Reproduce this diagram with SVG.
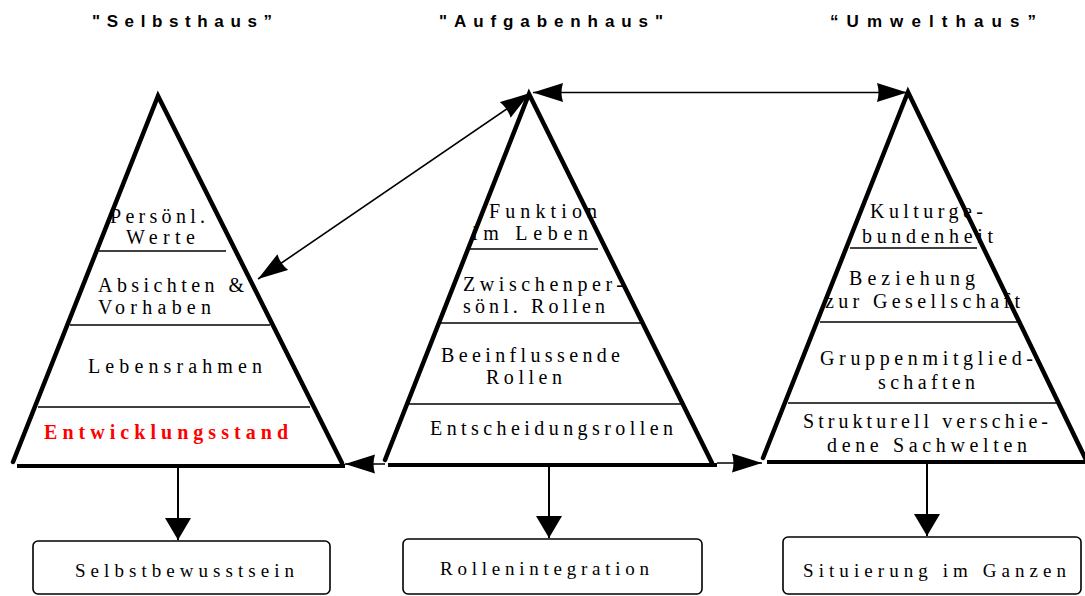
<svg xmlns="http://www.w3.org/2000/svg" width="1085" height="596" viewBox="0 0 1085 596">
  <style>
    .title { font-family: "Liberation Sans", Arial, sans-serif; font-size: 17px; font-weight: bold; fill: #000; }
    .lbl { font-family: "Liberation Serif", "Times New Roman", serif; font-size: 20px; fill: #000; }
    .red { font-weight: bold; fill: #ff0000; }
    .box { font-family: "Liberation Serif", "Times New Roman", serif; font-size: 19px; fill: #000; }
    .side { fill: none; stroke: #000; stroke-width: 4.5; stroke-linejoin: miter; stroke-linecap: round; }
    .base { fill: none; stroke: #000; stroke-width: 4; }
    .layer { fill: none; stroke: #000; stroke-width: 1.5; }
    .conn { fill: none; stroke: #000; stroke-width: 1.6; }
    .vconn { fill: none; stroke: #000; stroke-width: 2; }
    .rbox { fill: #fff; stroke: #000; stroke-width: 1.6; }
  </style>
  <defs>
    <marker id="ah" viewBox="0 0 30 20" refX="30" refY="10" markerWidth="30" markerHeight="20" markerUnits="userSpaceOnUse" orient="auto-start-reverse">
      <path d="M0,0.5 Q3,10 0,19.5 L30,10 Z" fill="#000"/>
    </marker>
    <marker id="av" viewBox="0 0 22 26" refX="22" refY="13" markerWidth="22" markerHeight="26" markerUnits="userSpaceOnUse" orient="auto">
      <path d="M0,0 L22,13 L0,26 Z" fill="#000"/>
    </marker>
  </defs>

  <g id="titles">
    <text class="title" x="92" y="27" textLength="180" lengthAdjust="spacing">"Selbsthaus”</text>
    <text class="title" x="439" y="27" textLength="224" lengthAdjust="spacing">"Aufgabenhaus"</text>
    <text class="title" x="830" y="27" textLength="206" lengthAdjust="spacing">“Umwelthaus”</text>
  </g>

  <g id="selbsthaus">
    <text class="lbl" x="110" y="223" textLength="95" lengthAdjust="spacing">Persönl.</text>
    <text class="lbl" x="126" y="244" textLength="69" lengthAdjust="spacing">Werte</text>
    <text class="lbl" x="98" y="292" textLength="146" lengthAdjust="spacing">Absichten &amp;</text>
    <text class="lbl" x="98" y="314" textLength="113" lengthAdjust="spacing">Vorhaben</text>
    <text class="lbl" x="88" y="373" textLength="174" lengthAdjust="spacing">Lebensrahmen</text>
    <text class="lbl red" x="44" y="439" textLength="244" lengthAdjust="spacing">Entwicklungsstand</text>
    <line class="layer" x1="99" y1="251" x2="226" y2="251"/>
    <line class="layer" x1="70" y1="325" x2="270" y2="325"/>
    <line class="layer" x1="38" y1="407" x2="310" y2="407"/>
    <path class="side" d="M13,462 L158,96 L342,463"/>
    <line class="base" x1="17" y1="466" x2="345" y2="466"/>
  </g>

  <g id="aufgabenhaus">
    <text class="lbl" x="489" y="218" textLength="108" lengthAdjust="spacing">Funktion</text>
    <text class="lbl" x="472" y="240" textLength="116" lengthAdjust="spacing">im Leben</text>
    <text class="lbl" x="463" y="291" textLength="160" lengthAdjust="spacing">Zwischenper-</text>
    <text class="lbl" x="463" y="313" textLength="142" lengthAdjust="spacing">sönl. Rollen</text>
    <text class="lbl" x="441" y="362" textLength="179" lengthAdjust="spacing">Beeinflussende</text>
    <text class="lbl" x="486" y="384" textLength="76" lengthAdjust="spacing">Rollen</text>
    <text class="lbl" x="430" y="435" textLength="243" lengthAdjust="spacing">Entscheidungsrollen</text>
    <line class="layer" x1="470" y1="249" x2="598" y2="249"/>
    <line class="layer" x1="441" y1="323" x2="642" y2="323"/>
    <line class="layer" x1="409" y1="404" x2="682" y2="404"/>
    <path class="side" d="M385,460 L529,94 L712,463"/>
    <line class="base" x1="388" y1="465" x2="717" y2="465"/>
  </g>

  <g id="umwelthaus">
    <text class="lbl" x="870" y="218" textLength="113" lengthAdjust="spacing">Kulturge-</text>
    <text class="lbl" x="862" y="243" textLength="131" lengthAdjust="spacing">bundenheit</text>
    <text class="lbl" x="849" y="285" textLength="126" lengthAdjust="spacing">Beziehung</text>
    <text class="lbl" x="825" y="308" textLength="195" lengthAdjust="spacing">zur Gesellschaft</text>
    <text class="lbl" x="820" y="365" textLength="213" lengthAdjust="spacing">Gruppenmitglied-</text>
    <text class="lbl" x="878" y="389" textLength="97" lengthAdjust="spacing">schaften</text>
    <text class="lbl" x="803" y="428" textLength="245" lengthAdjust="spacing">Strukturell verschie-</text>
    <text class="lbl" x="827" y="452" textLength="200" lengthAdjust="spacing">dene Sachwelten</text>
    <line class="layer" x1="850" y1="248" x2="977" y2="248"/>
    <line class="layer" x1="820" y1="322" x2="1020" y2="322"/>
    <line class="layer" x1="788" y1="403" x2="1058" y2="403"/>
    <path class="side" d="M763,458 L908,92 L1089,466"/>
    <line class="base" x1="767" y1="462" x2="1085" y2="462"/>
  </g>

  <g id="connectors">
    <line class="conn" x1="258" y1="279" x2="530" y2="93" marker-start="url(#ah)" marker-end="url(#ah)"/>
    <line class="conn" x1="533" y1="92.5" x2="907" y2="92.5" marker-start="url(#ah)" marker-end="url(#ah)"/>
    <line class="conn" x1="385" y1="464" x2="345" y2="464" marker-end="url(#ah)"/>
    <line class="conn" x1="717" y1="463" x2="762" y2="463" marker-end="url(#ah)"/>
    <line class="vconn" x1="178" y1="466" x2="178" y2="540" marker-end="url(#av)"/>
    <line class="vconn" x1="549" y1="465" x2="549" y2="538" marker-end="url(#av)"/>
    <line class="vconn" x1="927" y1="462" x2="927" y2="536" marker-end="url(#av)"/>
  </g>

  <g id="selbstbewusstsein">
    <rect class="rbox" x="33" y="541" width="297" height="53" rx="5"/>
    <text class="box" x="75" y="577" textLength="219" lengthAdjust="spacing">Selbstbewusstsein</text>
  </g>
  <g id="rollenintegration">
    <rect class="rbox" x="403" y="539" width="299" height="55" rx="5"/>
    <text class="box" x="440" y="575" textLength="209" lengthAdjust="spacing">Rollenintegration</text>
  </g>
  <g id="situierung">
    <rect class="rbox" x="783" y="537" width="298" height="57" rx="5"/>
    <text class="box" x="803" y="577" textLength="263" lengthAdjust="spacing">Situierung im Ganzen</text>
  </g>
</svg>
